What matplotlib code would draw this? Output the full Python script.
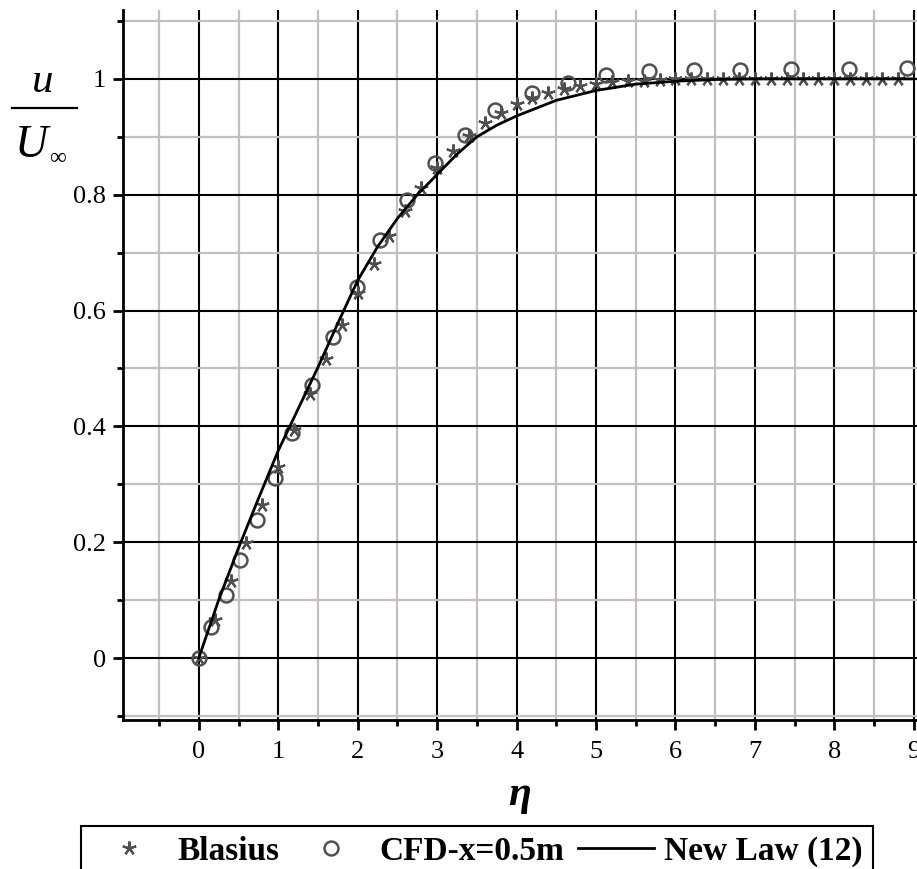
import matplotlib
matplotlib.use('Agg')
import matplotlib.pyplot as plt
from matplotlib.lines import Line2D
from matplotlib.ticker import MultipleLocator

# Blasius solution (eta, u/U)
blasius_eta = [0.0, 0.2, 0.4, 0.6, 0.8, 1.0, 1.2, 1.4, 1.6, 1.8, 2.0, 2.2, 2.4, 2.6, 2.8,
               3.0, 3.2, 3.4, 3.6, 3.8, 4.0, 4.2, 4.4, 4.6, 4.8, 5.0, 5.2, 5.4, 5.6, 5.8,
               6.0, 6.2, 6.4, 6.6, 6.8, 7.0, 7.2, 7.4, 7.6, 7.8, 8.0, 8.2, 8.4, 8.6, 8.8]
blasius_u = [0.0, 0.066, 0.133, 0.199, 0.265, 0.330, 0.394, 0.456, 0.517, 0.575, 0.630,
             0.681, 0.729, 0.772, 0.812, 0.846, 0.876, 0.902, 0.923, 0.941, 0.956, 0.967,
             0.976, 0.983, 0.988, 0.992, 0.994, 0.996, 0.997, 0.998, 0.999, 0.999, 1.0,
             1.0, 1.0, 1.0, 1.0, 1.0, 1.0, 1.0, 1.0, 1.0, 1.0, 1.0, 1.0]

# CFD at x = 0.5 m
cfd_eta = [0.0, 0.15, 0.34, 0.52, 0.73, 0.96, 1.17, 1.42, 1.69, 1.99, 2.28, 2.62, 2.97,
           3.35, 3.73, 4.19, 4.65, 5.13, 5.67, 6.23, 6.81, 7.46, 8.18, 8.91]
cfd_u = [0.0, 0.054, 0.109, 0.169, 0.238, 0.31, 0.388, 0.471, 0.555, 0.641, 0.722, 0.791,
         0.854, 0.903, 0.946, 0.975, 0.993, 1.006, 1.014, 1.016, 1.016, 1.017, 1.017, 1.018]

# New Law (12)
law_eta = [0.0, 0.25, 0.5, 0.75, 1.0, 1.25, 1.5, 1.75, 2.0, 2.25, 2.5, 2.75, 3.0, 3.25,
           3.5, 3.75, 4.0, 4.5, 5.0, 5.5, 6.0, 6.5, 7.0, 8.0, 9.0]
law_u = [0.0, 0.1, 0.19, 0.275, 0.358, 0.43, 0.502, 0.578, 0.652, 0.71, 0.759, 0.8, 0.835,
         0.87, 0.9, 0.92, 0.936, 0.963, 0.98, 0.991, 0.996, 0.999, 1.0, 1.0, 1.0]

plt.rcParams['font.family'] = ['Liberation Serif', 'DejaVu Serif']
plt.rcParams['mathtext.fontset'] = 'stix'

W, H = 917, 869
fig = plt.figure(figsize=(W / 100, H / 100), dpi=100)
ax = fig.add_axes([0.1336, 0.1715, 0.8664, 0.817])

ax.plot(blasius_eta, blasius_u, linestyle='none', marker=(5, 2, 0), markersize=10,
        markeredgewidth=1.6, color='#505050', label='Blasius', zorder=3)
ax.plot(cfd_eta, cfd_u, linestyle='none', marker='o', markersize=10, markerfacecolor='none',
        markeredgewidth=1.8, markeredgecolor='#505050', label='CFD-x=0.5m', zorder=3)
ax.plot(law_eta, law_u, color='black', linewidth=2.0, label='New Law (12)', zorder=4)

ax.set_xlim(-0.96, 9.04)
ax.set_ylim(-0.107, 1.119)

ax.xaxis.set_major_locator(MultipleLocator(1))
ax.xaxis.set_minor_locator(MultipleLocator(0.5))
ax.yaxis.set_major_locator(MultipleLocator(0.2))
ax.yaxis.set_minor_locator(MultipleLocator(0.1))
ax.set_xticks(range(0, 10))
ax.set_yticks([0, 0.2, 0.4, 0.6, 0.8, 1.0])
ax.set_yticklabels(['0', '0.2', '0.4', '0.6', '0.8', '1'])

ax.grid(which='major', color='black', linewidth=1.5, zorder=1)
ax.grid(which='minor', color='#c4bebc', linewidth=1.6, zorder=0)
ax.set_axisbelow(True)

for s in ['top', 'right']:
    ax.spines[s].set_visible(False)
for s in ['left', 'bottom']:
    ax.spines[s].set_linewidth(2)

ax.tick_params(which='major', length=7, width=2, labelsize=19, pad=5)
ax.tick_params(which='minor', length=4, width=2)
ax.tick_params(axis='x', which='major', pad=8)

# x label
fig.text(0.567, 0.085, 'η', fontsize=30, fontweight='bold', fontstyle='italic',
         ha='center', va='center')

# y label as a stacked fraction u / U_inf
fig.text(43 / W, 1 - 92 / H, 'u', fontsize=31, fontstyle='italic',
         ha='center', va='baseline')
fig.add_artist(Line2D([12 / W, 77 / W], [1 - 108 / H, 1 - 108 / H],
                      color='black', linewidth=1.6, transform=fig.transFigure))
fig.text(15 / W, 1 - 157 / H, 'U', fontsize=33, fontstyle='italic',
         ha='left', va='baseline')
fig.text(58 / W, 1 - 158 / H, '∞', fontsize=17, ha='center', va='center')

leg = fig.legend(loc='upper left', bbox_to_anchor=(0.088, 1 - 826 / H), borderaxespad=0,
                 ncol=3, fancybox=False, framealpha=1, edgecolor='black',
                 prop={'weight': 'bold', 'size': 24}, handlelength=2.3,
                 handletextpad=0.3, columnspacing=0.4, borderpad=0.3)
leg.get_frame().set_linewidth(1.5)

fig.savefig('out.png', dpi=100)
